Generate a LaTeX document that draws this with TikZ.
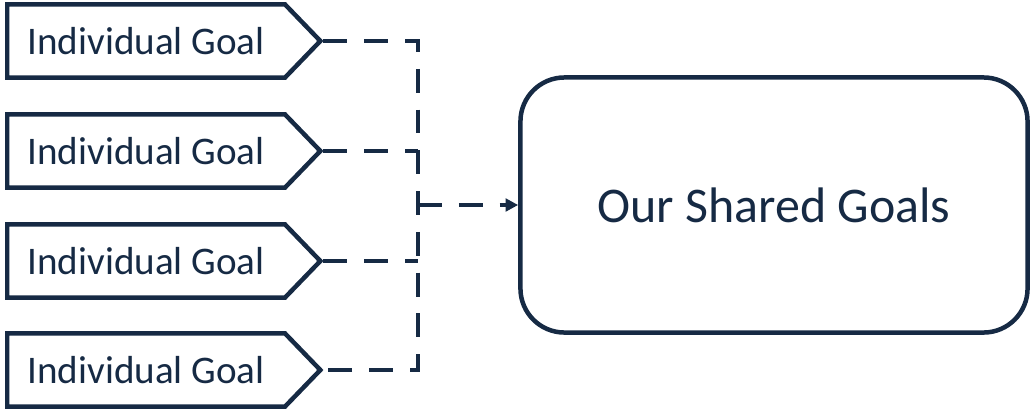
\documentclass[tikz,border=0pt]{standalone}
\usepackage{fontspec}
\setmainfont{Carlito}
\usepackage{tikz}
\usetikzlibrary{calc,positioning,arrows.meta,shapes.symbols}
\definecolor{navy}{RGB}{22,42,68}
\begin{document}
\begin{tikzpicture}[x=0.025cm, y=-0.025cm,
    goal/.style={draw=navy, line width=3.2pt, signal, signal to=east, signal pointer angle=92,
      minimum width=7.825cm, minimum height=1.825cm, inner sep=0pt, text=navy, anchor=west,
      font=\fontsize{27.8}{30}\selectfont},
    shared/.style={draw=navy, line width=3.2pt, rectangle, rounded corners=1.1cm,
      minimum width=12.675cm, minimum height=6.375cm, text=navy,
      font=\fontsize{35.5}{40}\selectfont},
    link/.style={draw=navy, line width=2.6pt, dash pattern=on 17pt off 12pt}]
  \useasboundingbox (0,0) rectangle (1031,408);
  \node[goal] (g1) at (5,41) {Individual Goal};
  \node[goal] (g2) at (5,151) {Individual Goal};
  \node[goal] (g3) at (5,261) {Individual Goal};
  \node[goal] (g4) at (5,370) {Individual Goal};

  \node[shared] (sg) at (774,205) {Our Shared Goals};
  \coordinate (hub) at (418,205);

  \draw[link] (g1.east) -| (g4.east -| hub) -- (g4.east);
  \draw[link] (g2.east) -- (g2.east -| hub);
  \draw[link] (g3.east) -- (g3.east -| hub);
  \draw[link,-{Triangle[length=9pt,width=9pt]}] (hub) -- (sg.west);
\end{tikzpicture}
\end{document}
